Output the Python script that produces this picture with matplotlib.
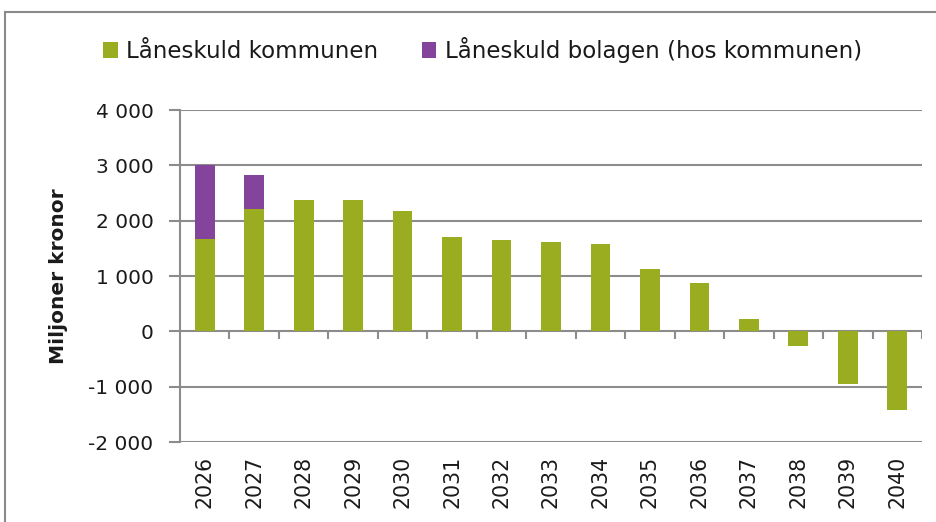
import matplotlib
matplotlib.use("Agg")
import matplotlib.pyplot as plt
import numpy as np
from matplotlib.patches import Patch, Rectangle

years = ["2026", "2027", "2028", "2029", "2030", "2031", "2032", "2033",
         "2034", "2035", "2036", "2037", "2038", "2039", "2040"]
kommunen = [1670, 2205, 2380, 2380, 2170, 1700, 1650, 1608, 1570, 1120, 876, 228, -258, -955, -1430]
bolagen = [1330, 615, 0, 0, 0, 0, 0, 0, 0, 0, 0, 0, 0, 0, 0]
yticks = [-2000, -1000, 0, 1000, 2000, 3000, 4000]
ytick_labels = ["-2 000", "-1 000", "0", "1 000", "2 000", "3 000", "4 000"]

green = "#9AAC20"
purple = "#84449B"
grid = "#8C8C8C"
txt = "#1a1a1a"

plt.rcParams['font.family'] = ['DejaVu Sans']

fig = plt.figure(figsize=(9.37, 5.22), dpi=100)
W, H = 937, 522
ax = fig.add_axes([180 / W, 1 - 442 / H, (922 - 180) / W, (442 - 110) / H])

x = np.arange(len(years))
ax.bar(x, kommunen, width=0.4, color=green, zorder=3)
ax.bar(x, bolagen, width=0.4, bottom=kommunen, color=purple, zorder=3)

ax.set_xlim(-0.5, len(years) - 0.5)
ax.set_ylim(-2000, 4000)
ax.set_yticks(yticks)
ax.set_yticklabels(ytick_labels)
for yv in yticks:
    ax.axhline(yv, color=grid, lw=1.5, zorder=1)

# tick marks on the zero line between categories
bounds = np.arange(len(years) + 1) - 0.5
ax.vlines(bounds[1:], -140, 0, color=grid, lw=1.5, zorder=2)

ax.set_xticks(x)
ax.set_xticklabels(years, rotation=90, fontsize=14.8, color=txt)
ax.tick_params(axis='x', length=0, pad=10)
ax.tick_params(axis='y', length=8, width=1.5, color=grid, pad=11,
               labelsize=14.5, labelcolor=txt)

for s in ['top', 'right', 'bottom']:
    ax.spines[s].set_visible(False)
ax.spines['left'].set_color(grid)
ax.spines['left'].set_linewidth(1.5)

ax.set_ylabel("Miljoner kronor", fontsize=14.5, fontweight='semibold', color=txt, labelpad=15)

handles = [Patch(facecolor=green, label="Låneskuld kommunen"),
           Patch(facecolor=purple, label="Låneskuld bolagen (hos kommunen)")]
fig.legend(handles=handles, loc='center left', bbox_to_anchor=(103 / W, 1 - 50 / H),
           ncol=2, frameon=False, fontsize=16.5, handlelength=0.65, handleheight=0.65,
           handletextpad=0.35, columnspacing=1.9, borderpad=0, borderaxespad=0,
           labelcolor=txt)

fig.patches.append(Rectangle((5 / W, -0.05), 1.2, 1 - 12 / H + 0.05,
                             transform=fig.transFigure, fill=False,
                             edgecolor="#8a8a8a", lw=1.5))

fig.savefig("out.png", dpi=100)
